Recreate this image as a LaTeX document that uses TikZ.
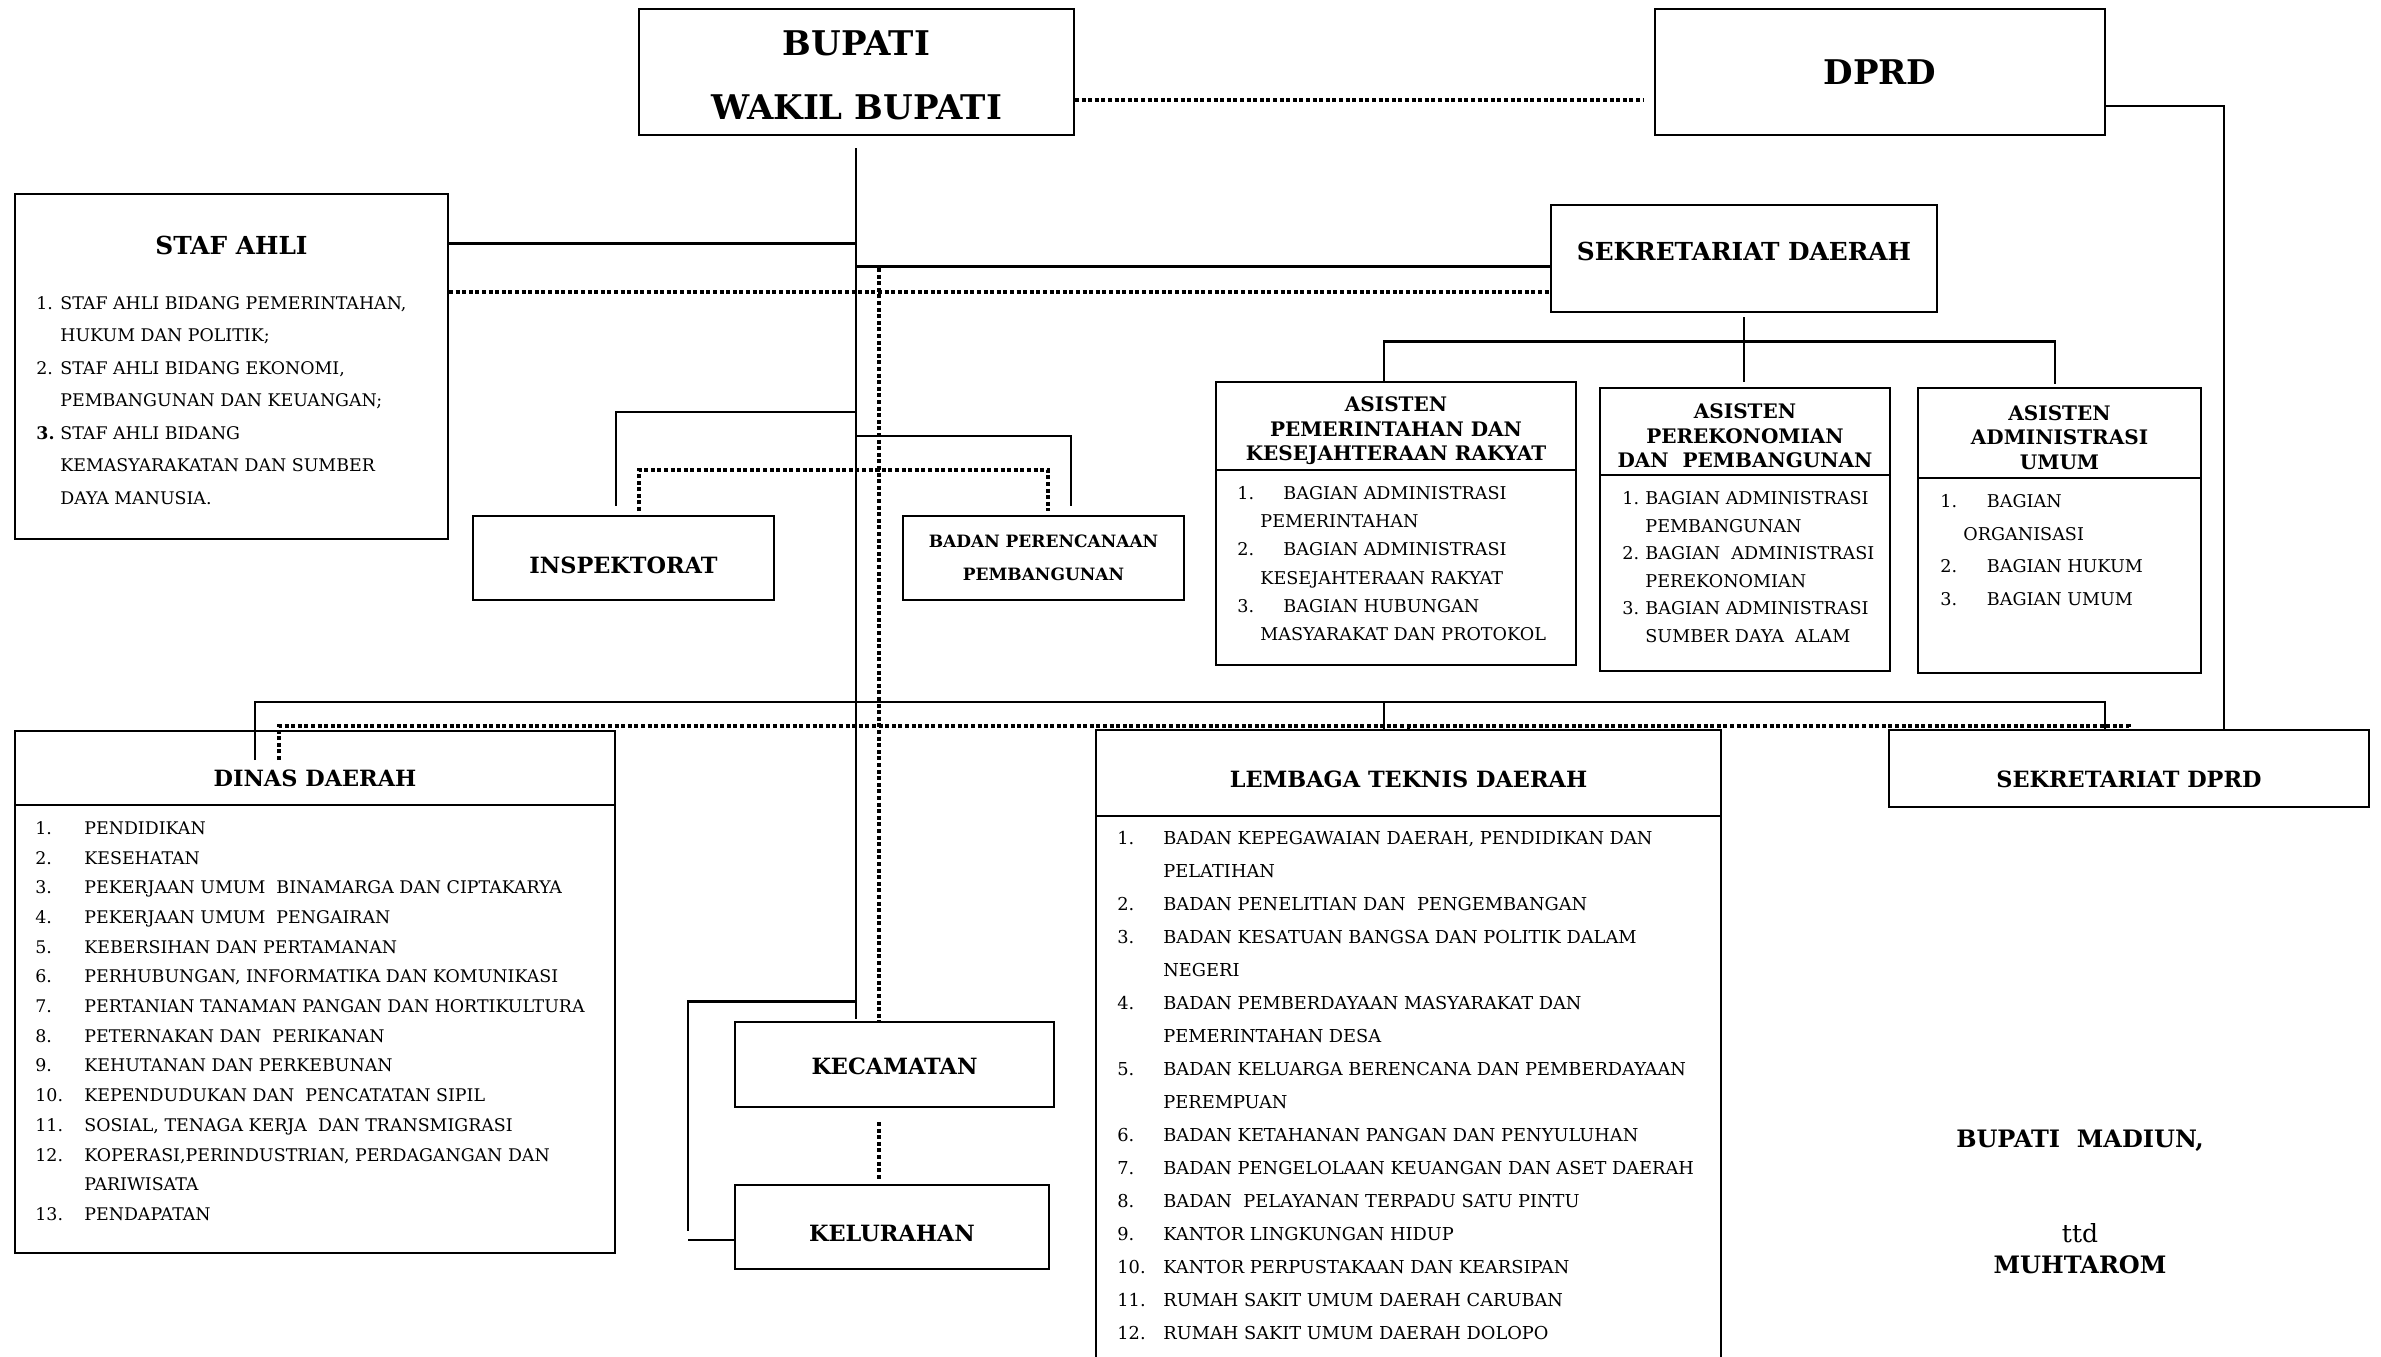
\documentclass[tikz,border=0pt]{standalone}
\usepackage{fontspec}
\setmainfont{DejaVu Serif}
\usetikzlibrary{positioning}

\newcommand{\fbesar}{\fontsize{17}{32}\selectfont\bfseries}
\newcommand{\fjudul}{\fontsize{12.4}{15}\selectfont\bfseries}
\newcommand{\fkotak}{\fontsize{11.2}{14}\selectfont\bfseries}
\newcommand{\fasisten}{\fontsize{10}{12.25}\selectfont\bfseries}
\newcommand{\nr}[2]{\makebox[#1][l]{#2}}

\begin{document}
\begin{tikzpicture}[x=0.5pt, y=-0.5pt]
  \tikzstyle{box}=[draw,line width=1pt,inner sep=0pt,align=center]
  \tikzstyle{lnk}=[line width=1.3pt]
  \tikzstyle{dotln}=[line width=1.7pt,dash pattern=on 2pt off 1.3pt]
  \tikzstyle{lst}=[anchor=base west,inner sep=0pt]
  \useasboundingbox (0,0) rectangle (2381,1356);

  % pimpinan
  \node[box,minimum width=217.5pt,minimum height=63pt] (bupati) at (856.5,72) {};
  \node[font=\fbesar,align=center] (bupatijdl) at (856.5,75) {BUPATI\\WAKIL BUPATI};
  \node[box,minimum width=225pt,minimum height=63pt,font=\fbesar] (dprd) at (1880,72) {DPRD};

  % staf ahli
  \node[box,minimum width=216.5pt,minimum height=172.5pt] (staf) at (231.5,366.5) {};
  \node[font=\fjudul] (stafjdl) at (231.5,245) {STAF AHLI};
  \node[lst,font=\fontsize{8.7}{16.25}\selectfont] (staflist) at (36,309.3) {\begin{tabular}[t]{@{}l@{}}
    \nr{12pt}{1.}STAF AHLI BIDANG PEMERINTAHAN,\\
    \nr{12pt}{}HUKUM DAN POLITIK;\\
    \nr{12pt}{2.}STAF AHLI BIDANG EKONOMI,\\
    \nr{12pt}{}PEMBANGUNAN DAN KEUANGAN;\\
    \nr{12pt}{\textbf{3.}}STAF AHLI BIDANG\\
    \nr{12pt}{}KEMASYARAKATAN DAN SUMBER\\
    \nr{12pt}{}DAYA MANUSIA.
  \end{tabular}};

  % sekretariat daerah dan asisten
  \node[box,minimum width=193pt,minimum height=53.5pt,font=\fjudul,text depth=7pt] (sekda) at (1744,258.5) {SEKRETARIAT DAERAH};

  \node[box,minimum width=180pt,minimum height=44pt] (a1h) at (1396,426) {};
  \node[font=\fasisten,align=center] (a1jdl) at (1396,431) {ASISTEN\\PEMERINTAHAN DAN\\KESEJAHTERAAN RAKYAT};
  \node[box,minimum width=180pt,minimum height=97.5pt] (a1b) at (1396,567.5) {};
  \node[lst,font=\fontsize{8.8}{14.1}\selectfont] (a1list) at (1237,499.4) {\begin{tabular}[t]{@{}l@{}}
    \nr{23pt}{1.}BAGIAN ADMINISTRASI\\
    \nr{11.5pt}{}PEMERINTAHAN\\
    \nr{23pt}{2.}BAGIAN ADMINISTRASI\\
    \nr{11.5pt}{}KESEJAHTERAAN RAKYAT\\
    \nr{23pt}{3.}BAGIAN HUBUNGAN\\
    \nr{11.5pt}{}MASYARAKAT DAN PROTOKOL
  \end{tabular}};

  \node[box,minimum width=145pt,minimum height=43.75pt] (a2h) at (1745,431.25) {};
  \node[font=\fasisten,align=center] (a2jdl) at (1745,436) {ASISTEN\\PEREKONOMIAN\\DAN~~PEMBANGUNAN};
  \node[box,minimum width=145pt,minimum height=97.75pt] (a2b) at (1745,572.75) {};
  \node[lst,font=\fontsize{8.8}{13.8}\selectfont] (a2list) at (1622,504.4) {\begin{tabular}[t]{@{}l@{}}
    \nr{11.5pt}{1.}BAGIAN ADMINISTRASI\\
    \nr{11.5pt}{}PEMBANGUNAN\\
    \nr{11.5pt}{2.}BAGIAN~~ADMINISTRASI\\
    \nr{11.5pt}{}PEREKONOMIAN\\
    \nr{11.5pt}{3.}BAGIAN ADMINISTRASI\\
    \nr{11.5pt}{}SUMBER DAYA~~ALAM
  \end{tabular}};

  \node[box,minimum width=141.5pt,minimum height=45pt] (a3h) at (2059.5,433) {};
  \node[font=\fasisten,align=center] (a3jdl) at (2059.5,437.5) {ASISTEN\\ADMINISTRASI\\UMUM};
  \node[box,minimum width=141.5pt,minimum height=97.5pt] (a3b) at (2059.5,575.5) {};
  \node[lst,font=\fontsize{8.8}{16.3}\selectfont] (a3list) at (1940,507.4) {\begin{tabular}[t]{@{}l@{}}
    \nr{23.25pt}{1.}BAGIAN\\
    \nr{11.5pt}{}ORGANISASI\\
    \nr{23.25pt}{2.}BAGIAN HUKUM\\
    \nr{23.25pt}{3.}BAGIAN UMUM
  \end{tabular}};

  % inspektorat dan bappeda
  \node[box,minimum width=150.5pt,minimum height=42pt,font=\fkotak,text height=15.2pt] (insp) at (623.5,558) {INSPEKTORAT};
  \node[box,minimum width=140.5pt,minimum height=42pt,font=\fontsize{8.5}{16.5}\selectfont\bfseries] (bap) at (1043.5,558) {BADAN PERENCANAAN\\PEMBANGUNAN};

  % dinas daerah
  \node[box,minimum width=300pt,minimum height=37.25pt,font=\fkotak,text height=19.2pt] (dinash) at (315,767.75) {DINAS DAERAH};
  \node[box,minimum width=300pt,minimum height=223.8pt] (dinasb) at (315,1028.8) {};
  \node[lst,font=\fontsize{8.7}{14.85}\selectfont] (dinaslist) at (35,834.3) {\begin{tabular}[t]{@{}l@{}}
    \nr{24.5pt}{1.}PENDIDIKAN\\
    \nr{24.5pt}{2.}KESEHATAN\\
    \nr{24.5pt}{3.}PEKERJAAN UMUM~~BINAMARGA DAN CIPTAKARYA\\
    \nr{24.5pt}{4.}PEKERJAAN UMUM~~PENGAIRAN\\
    \nr{24.5pt}{5.}KEBERSIHAN DAN PERTAMANAN\\
    \nr{24.5pt}{6.}PERHUBUNGAN, INFORMATIKA DAN KOMUNIKASI\\
    \nr{24.5pt}{7.}PERTANIAN TANAMAN PANGAN DAN HORTIKULTURA\\
    \nr{24.5pt}{8.}PETERNAKAN DAN~~PERIKANAN\\
    \nr{24.5pt}{9.}KEHUTANAN DAN PERKEBUNAN\\
    \nr{24.5pt}{10.}KEPENDUDUKAN DAN~~PENCATATAN SIPIL\\
    \nr{24.5pt}{11.}SOSIAL, TENAGA KERJA~~DAN TRANSMIGRASI\\
    \nr{24.5pt}{12.}KOPERASI,PERINDUSTRIAN, PERDAGANGAN DAN\\
    \nr{24.5pt}{}PARIWISATA\\
    \nr{24.5pt}{13.}PENDAPATAN
  \end{tabular}};

  % lembaga teknis daerah
  \node[box,minimum width=312.5pt,minimum height=43pt,font=\fkotak,text height=14.7pt] (lembh) at (1408.5,773) {LEMBAGA TEKNIS DAERAH};
  \node[box,minimum width=312.5pt,minimum height=282pt] (lembb) at (1408.5,1098) {};
  \node[lst,font=\fontsize{8.9}{16.5}\selectfont] (lemblist) at (1117,844.5) {\begin{tabular}[t]{@{}l@{}}
    \nr{23pt}{1.}BADAN KEPEGAWAIAN DAERAH, PENDIDIKAN DAN\\
    \nr{23pt}{}PELATIHAN\\
    \nr{23pt}{2.}BADAN PENELITIAN DAN~~PENGEMBANGAN\\
    \nr{23pt}{3.}BADAN KESATUAN BANGSA DAN POLITIK DALAM\\
    \nr{23pt}{}NEGERI\\
    \nr{23pt}{4.}BADAN PEMBERDAYAAN MASYARAKAT DAN\\
    \nr{23pt}{}PEMERINTAHAN DESA\\
    \nr{23pt}{5.}BADAN KELUARGA BERENCANA DAN PEMBERDAYAAN\\
    \nr{23pt}{}PEREMPUAN\\
    \nr{23pt}{6.}BADAN KETAHANAN PANGAN DAN PENYULUHAN\\
    \nr{23pt}{7.}BADAN PENGELOLAAN KEUANGAN DAN ASET DAERAH\\
    \nr{23pt}{8.}BADAN~~PELAYANAN TERPADU SATU PINTU\\
    \nr{23pt}{9.}KANTOR LINGKUNGAN HIDUP\\
    \nr{23pt}{10.}KANTOR PERPUSTAKAAN DAN KEARSIPAN\\
    \nr{23pt}{11.}RUMAH SAKIT UMUM DAERAH CARUBAN\\
    \nr{23pt}{12.}RUMAH SAKIT UMUM DAERAH DOLOPO
  \end{tabular}};

  % sekretariat dprd
  \node[box,minimum width=240pt,minimum height=38.5pt,font=\fkotak,text height=19.2pt] (sekdprd) at (2129,768.5) {SEKRETARIAT DPRD};

  % kecamatan dan kelurahan
  \node[box,minimum width=159.5pt,minimum height=42.5pt,font=\fkotak,text height=10.2pt] (kec) at (894.5,1064.5) {KECAMATAN};
  \node[box,minimum width=157pt,minimum height=42pt,font=\fkotak,text height=15pt] (kel) at (892,1227) {KELURAHAN};

  % tanda tangan
  \node[font=\fontsize{12}{15}\selectfont\bfseries] (jabatan) at (2080,1141) {BUPATI~~MADIUN,};
  \node[font=\fontsize{12.5}{15}\selectfont] (ttd) at (2080,1233) {ttd};
  \node[font=\fontsize{12}{15}\selectfont\bfseries] (nama) at (2080,1265) {MUHTAROM};

  % titik simpul garis
  \coordinate (spTop) at (856,148);
  \coordinate (spStaf) at (856,243.5);
  \coordinate (spSekda) at (856,266.5);
  \coordinate (spInsp) at (856,412);
  \coordinate (spBap) at (856,436);
  \coordinate (spOpd) at (856,702);
  \coordinate (spKec) at (856,1001.5);
  \coordinate (spEnd) at (856,1019);
  \coordinate (inspIn) at (616,506);
  \coordinate (bapIn) at (1071,506);
  \coordinate (dinasIn) at (255,760);
  \coordinate (lembIn) at (1384,730);
  \coordinate (sdIn) at (2105,730);
  \coordinate (kelBend) at (688,1231);
  \coordinate (kelIn) at (688,1240);
  \coordinate (dprdOut) at (2105,106);
  \coordinate (sdR) at (2224,730);
  \coordinate (asBar) at (1744,341.5);
  \coordinate (a1In) at (1384,382);
  \coordinate (a2In) at (1744,382);
  \coordinate (a3In) at (2055,384);
  \coordinate (topDot) at (1643,100);
  \coordinate (dsTop) at (879,268);
  \coordinate (dsStaf) at (879,292);
  \coordinate (dInsp) at (639,511);
  \coordinate (dBar) at (879,470);
  \coordinate (dBap) at (1048,511);
  \coordinate (dDinas) at (279,760);
  \coordinate (dOpd) at (879,726);
  \coordinate (dKel1) at (879,1122);
  \coordinate (dKel2) at (879,1181);

  % garis komando
  \draw[lnk] (spTop) -- (spEnd);
  \draw[lnk] (staf.east |- spStaf) -- (spStaf);
  \draw[lnk] (spSekda) -- (sekda.west |- spSekda);
  \draw[lnk] (spInsp) -| (inspIn);
  \draw[lnk] (spBap) -| (bapIn);
  \draw[lnk] (dinasIn) |- (sdIn |- spOpd) -- (sdIn);
  \draw[lnk] (lembIn |- spOpd) -- (lembIn);
  \draw[lnk] (spKec) -| (kelBend);
  \draw[lnk] (kelIn) -- (kel.west |- kelIn);
  \draw[lnk] (dprdOut) -| (sdR);
  \draw[lnk] ([yshift=-2pt]sekda.south) -- (a2In);
  \draw[lnk] (a1In) |- (a3In |- asBar) -- (a3In);

  % garis koordinasi
  \draw[dotln] (bupati.east |- topDot) -- (topDot);
  \draw[dotln] (staf.east |- dsStaf) -- (sekda.west |- dsStaf);
  \draw[dotln] (dsTop) -- (dsTop |- kec.north);
  \draw[dotln] (dInsp) |- (dBar) -| (dBap);
  \draw[dotln] (dDinas) |- (dOpd) -| (sekdprd.north);
  \draw[dotln] (lembh.north |- dOpd) -- (lembh.north);
  \draw[dotln] (dKel1) -- (dKel2);
\end{tikzpicture}
\end{document}
